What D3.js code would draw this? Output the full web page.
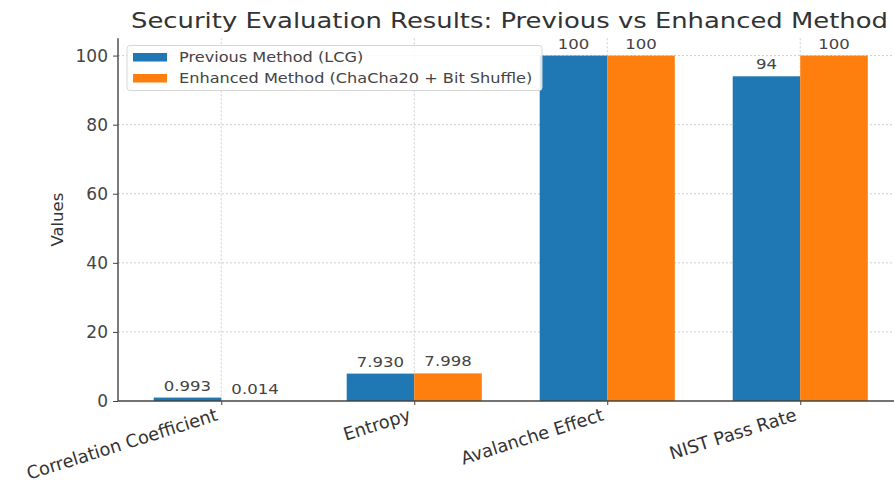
<!DOCTYPE html>
<html>
<head>
<meta charset="utf-8">
<script src="https://cdn.jsdelivr.net/npm/d3@7"></script>
<style>
  html, body { margin: 0; padding: 0; background: #fff; }
  svg { display: block; font-family: "DejaVu Sans", sans-serif; }
</style>
</head>
<body>
<svg id="chart" width="894" height="483"></svg>
<script>
// Metrics compared between the two methods
const categories = ["Correlation Coefficient", "Entropy", "Avalanche Effect", "NIST Pass Rate"];
const previousValues = [0.993, 7.930, 100, 94];
const enhancedValues = [0.014, 7.998, 100, 100];
const previousLabels = ["0.993", "7.930", "100", "94"];
const enhancedLabels = ["0.014", "7.998", "100", "100"];
const seriesNames = ["Previous Method (LCG)", "Enhanced Method (ChaCha20 + Bit Shuffle)"];
const yTicks = [0, 20, 40, 60, 80, 100];

const colors = ["#1f77b4", "#ff7f0e"];
const barWidth = 0.35;

const svg = d3.select("#chart");

// Widen text glyphs horizontally by a factor
function widen(sel, factor) {
  sel.each(function () {
    const w = this.getComputedTextLength();
    d3.select(this).attr("textLength", w * factor).attr("lengthAdjust", "spacingAndGlyphs");
  });
}

// Axes area (right side runs past the canvas edge)
const plotLeft = 118, plotRight = 903.5, plotTop = 38.3, plotBottom = 401;

const x = d3.scaleLinear().domain([-0.535, 3.535]).range([plotLeft, plotRight]);
const y = d3.scaleLinear().domain([0, 105]).range([plotBottom, plotTop]);

// Grid
const grid = svg.append("g");
grid.selectAll("line.h").data(yTicks.filter(d => d > 0)).join("line")
  .attr("class", "h")
  .attr("x1", plotLeft).attr("x2", 894)
  .attr("y1", d => y(d)).attr("y2", d => y(d))
  .attr("stroke", "#c8c8c8").attr("stroke-width", 0.9).attr("stroke-dasharray", "2,2");
grid.selectAll("line.v").data(categories).join("line")
  .attr("class", "v")
  .attr("x1", (d, i) => x(i)).attr("x2", (d, i) => x(i))
  .attr("y1", plotTop).attr("y2", plotBottom)
  .attr("stroke", "#c8c8c8").attr("stroke-width", 0.9).attr("stroke-dasharray", "2,2");

// Bars and value labels
const series = [previousValues, enhancedValues];
const labels = [previousLabels, enhancedLabels];
series.forEach((vals, s) => {
  const off = s === 0 ? -barWidth : 0;
  svg.append("g").selectAll("rect").data(vals).join("rect")
    .attr("x", (d, i) => x(i + off))
    .attr("width", (d, i) => x(i + off + barWidth) - x(i + off))
    .attr("y", d => y(d))
    .attr("height", d => y(0) - y(d))
    .attr("fill", colors[s]);
  const t = svg.append("g").selectAll("text").data(vals).join("text")
    .attr("x", (d, i) => x(i + off + barWidth / 2))
    .attr("y", d => y(d) - 7)
    .attr("text-anchor", "middle")
    .attr("font-size", 14.5)
    .attr("fill", "#444")
    .text((d, i) => labels[s][i]);
  widen(t, 1.14);
});

// Y axis
const yAxis = svg.append("g").attr("transform", `translate(${plotLeft},0)`)
  .call(d3.axisLeft(y).tickValues(yTicks).tickSize(5).tickPadding(5));
yAxis.select(".domain").attr("stroke", "#444").attr("stroke-width", 1.4).attr("d", `M0,${plotTop}V${plotBottom}`);
yAxis.selectAll(".tick line").attr("stroke", "#444");
yAxis.selectAll(".tick text").attr("font-size", 17).attr("fill", "#444").attr("font-family", "DejaVu Sans");

// X axis with slanted category names
const xAxis = svg.append("g").attr("transform", `translate(0,${plotBottom})`)
  .call(d3.axisBottom(x).tickValues(d3.range(categories.length)).tickFormat(i => categories[i]).tickSize(4));
xAxis.select(".domain").attr("stroke", "#444").attr("stroke-width", 1.4).attr("d", `M${plotLeft},0H894`);
xAxis.selectAll(".tick line").attr("stroke", "#444");
xAxis.selectAll(".tick text")
  .attr("font-size", 17.8).attr("fill", "#333").attr("font-family", "DejaVu Sans")
  .attr("text-anchor", "end")
  .attr("dy", 0)
  .attr("y", 0)
  .attr("transform", "translate(-3,19) rotate(-17.5)");

// Y label
svg.append("text")
  .attr("transform", `translate(63,${(plotTop + plotBottom) / 2}) rotate(-90)`)
  .attr("text-anchor", "middle")
  .attr("font-size", 16.5).attr("fill", "#333")
  .text("Values");

// Title
svg.append("text")
  .attr("x", 509.5).attr("y", 28)
  .attr("text-anchor", "middle")
  .attr("font-size", 21).attr("fill", "#333")
  .attr("textLength", 757).attr("lengthAdjust", "spacingAndGlyphs")
  .text("Security Evaluation Results: Previous vs Enhanced Method");

// Legend
const lg = svg.append("g");
lg.append("rect").attr("x", 127).attr("y", 45.5).attr("width", 415).attr("height", 45)
  .attr("rx", 3).attr("fill", "#fff").attr("fill-opacity", 0.85)
  .attr("stroke", "#d6d6d6").attr("stroke-width", 1);
seriesNames.forEach((name, i) => {
  lg.append("rect").attr("x", 133).attr("y", 53 + i * 21).attr("width", 34).attr("height", 8.5)
    .attr("fill", colors[i]);
  const t = lg.append("text").attr("x", 179).attr("y", 62 + i * 21)
    .attr("font-size", 14.8).attr("fill", "#444").text(name);
  widen(t, 1.09);
});
</script>
</body>
</html>
